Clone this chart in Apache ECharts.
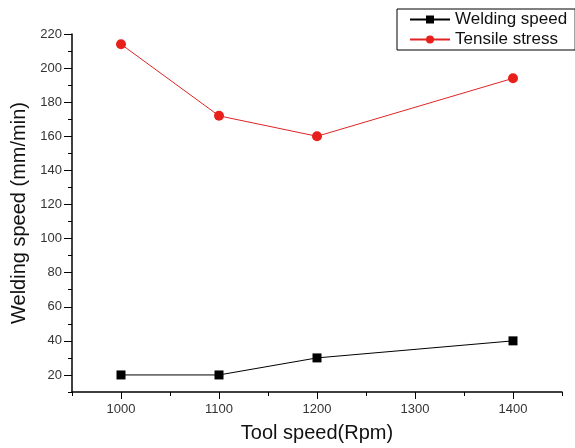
<!DOCTYPE html>
<html>
<head>
	<meta charset="utf-8">
	<title>Tool speed</title>
	<style>
		html, body { margin: 0; padding: 0; background: #fff; }
		#chart { width: 575px; height: 448px; }
	</style>
</head>
<body>
	<div id="chart"></div>
<script src="https://cdn.jsdelivr.net/npm/echarts@6/dist/echarts.min.js"></script>
<script>
	var toolSpeed = [1000, 1100, 1200, 1300, 1400];
	var speedRpm = [1000, 1100, 1200, 1400];
	var weldingSpeed = [20, 20, 30, 40];
	var tensileStress = [214, 172, 160, 194];
	var yTicks = [20, 40, 60, 80, 100, 120, 140, 160, 180, 200, 220];
	var yMinor = [10, 30, 50, 70, 90, 110, 130, 150, 170, 190, 210];
	var xMinor = [950, 1050, 1150, 1250, 1350, 1450];

	function pairs(xs, ys) {
		return xs.map(function (x, i) { return [x, ys[i]]; });
	}

	var font = '"Liberation Sans", Arial, sans-serif';
	var myChart = echarts.init(document.getElementById('chart'));

	var option = {
		animation: false,
		grid: { left: 72, right: 13, top: 34, bottom: 51 },
		legend: {
			orient: 'vertical',
			left: 397,
			top: 9,
			padding: [2, 8, 2, 12],
			itemWidth: 40,
			itemHeight: 10,
			itemGap: 3,
			borderColor: '#000',
			borderWidth: 1,
			borderRadius: 0,
			textStyle: { fontFamily: font, fontSize: 17, color: '#111' },
			data: ['Welding speed', 'Tensile stress']
		},
		xAxis: [
			{
				type: 'value',
				min: 950,
				max: 1450,
				name: 'Tool speed(Rpm)',
				nameLocation: 'middle',
				nameGap: 31,
				nameTextStyle: { fontFamily: font, fontSize: 20, color: '#111' },
				axisLine: { lineStyle: { color: '#000', width: 1.5 } },
				axisTick: { customValues: toolSpeed, length: 7, lineStyle: { color: '#000' } },
				axisLabel: {
					customValues: toolSpeed, margin: 11, fontFamily: font, fontSize: 13, color: '#333',
					formatter: function (v) { return String(v); }
				},
				splitLine: { show: false }
			},
			{
				type: 'value',
				position: 'bottom',
				min: 950,
				max: 1450,
				axisLine: { show: false },
				axisTick: { customValues: xMinor, length: 4, lineStyle: { color: '#000' } },
				axisLabel: { show: false },
				splitLine: { show: false }
			}
		],
		yAxis: [
			{
				type: 'value',
				min: 10,
				max: 220,
				name: 'Welding speed (mm/min)',
				nameLocation: 'middle',
				nameGap: 40,
				nameTextStyle: { fontFamily: font, fontSize: 20, color: '#111' },
				axisLine: { show: true, lineStyle: { color: '#000', width: 1.5 } },
				axisTick: { show: true, customValues: yTicks, length: 8, lineStyle: { color: '#000' } },
				axisLabel: { customValues: yTicks, margin: 10, fontFamily: font, fontSize: 13, color: '#333' },
				splitLine: { show: false }
			},
			{
				type: 'value',
				position: 'left',
				min: 10,
				max: 220,
				axisLine: { show: false },
				axisTick: { show: true, customValues: yMinor, length: 4, lineStyle: { color: '#000' } },
				axisLabel: { show: false },
				splitLine: { show: false }
			}
		],
		series: [
			{
				name: 'Welding speed',
				type: 'line',
				data: pairs(speedRpm, weldingSpeed),
				symbol: 'rect',
				symbolSize: 9,
				lineStyle: { color: '#000', width: 1 },
				itemStyle: { color: '#000' }
			},
			{
				name: 'Tensile stress',
				type: 'line',
				data: pairs(speedRpm, tensileStress),
				symbol: 'circle',
				symbolSize: 10,
				lineStyle: { color: '#e02424', width: 1 },
				itemStyle: { color: '#e8201c' }
			}
		]
	};

	myChart.setOption(option);
</script>
</body>
</html>
